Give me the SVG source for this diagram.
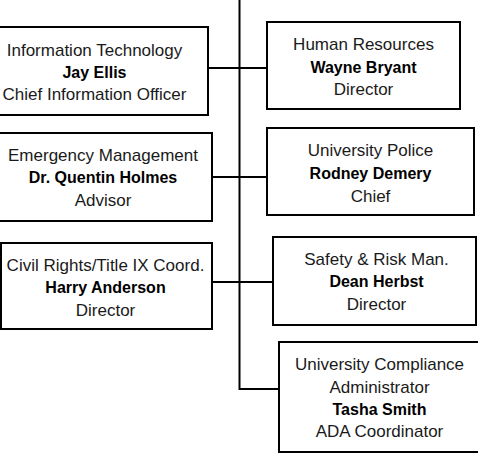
<svg xmlns="http://www.w3.org/2000/svg" width="478" height="453" viewBox="0 0 478 453">
<style>
.box{fill:#fff;stroke:#000;stroke-width:2}
.c{fill:none;stroke:#000;stroke-width:2}
text{font-family:"Liberation Sans",Arial,sans-serif;text-anchor:middle;fill:#1a1a1a}
.r{font-size:17px}
.b{font-size:16px;font-weight:bold;fill:#000}
</style>
<rect width="478" height="453" fill="#fff"/>
<g id="connectors">
<path class="c" d="M239.5 0V389H279"/>
<path class="c" d="M208 68H267"/>
<path class="c" d="M212 177H267"/>
<path class="c" d="M212 282H273"/>
</g>
<g id="it">
<rect class="box" x="-19" y="27" width="227" height="88"/>
<text class="r" x="94.5" y="56">Information Technology</text>
<text class="b" x="94.5" y="78">Jay Ellis</text>
<text class="r" x="94.5" y="100">Chief Information Officer</text>
</g>
<g id="hr">
<rect class="box" x="267" y="22" width="193" height="87"/>
<text class="r" x="363.5" y="50">Human Resources</text>
<text class="b" x="363.5" y="73">Wayne Bryant</text>
<text class="r" x="363.5" y="95">Director</text>
</g>
<g id="em">
<rect class="box" x="-6" y="133" width="218" height="88"/>
<text class="r" x="103" y="161">Emergency Management</text>
<text class="b" x="103" y="183">Dr. Quentin Holmes</text>
<text class="r" x="103" y="206">Advisor</text>
</g>
<g id="police">
<rect class="box" x="267" y="128" width="207" height="87"/>
<text class="r" x="370.5" y="156">University Police</text>
<text class="b" x="370.5" y="179">Rodney Demery</text>
<text class="r" x="370.5" y="202">Chief</text>
</g>
<g id="civil">
<rect class="box" x="1" y="243" width="211" height="86"/>
<text class="r" x="105.5" y="271">Civil Rights/Title IX Coord.</text>
<text class="b" x="105.5" y="293">Harry Anderson</text>
<text class="r" x="105.5" y="316">Director</text>
</g>
<g id="safety">
<rect class="box" x="273" y="237" width="203" height="88"/>
<text class="r" x="376.5" y="265">Safety &amp; Risk Man.</text>
<text class="b" x="376.5" y="287">Dean Herbst</text>
<text class="r" x="376.5" y="310">Director</text>
</g>
<g id="compliance">
<rect class="box" x="279" y="342" width="202" height="110"/>
<text class="r" x="379.5" y="370">University Compliance</text>
<text class="r" x="379.5" y="393">Administrator</text>
<text class="b" x="379.5" y="415">Tasha Smith</text>
<text class="r" x="379.5" y="437">ADA Coordinator</text>
</g>
</svg>
